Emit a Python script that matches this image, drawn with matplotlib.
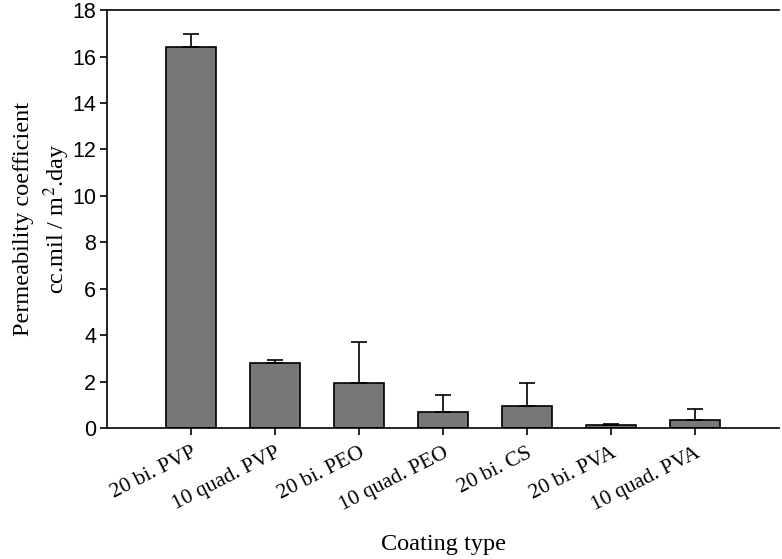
import matplotlib.pyplot as plt
import numpy as np

coatings = ["20 bi. PVP", "10 quad. PVP", "20 bi. PEO", "10 quad. PEO",
            "20 bi. CS", "20 bi. PVA", "10 quad. PVA"]
permeability = [16.4, 2.82, 1.93, 0.69, 0.97, 0.13, 0.37]
upper_err = [0.57, 0.13, 1.77, 0.73, 0.96, 0.03, 0.45]

serif = ["Liberation Serif", "DejaVu Serif"]
sans = ["Liberation Sans", "DejaVu Sans"]

fig = plt.figure(figsize=(7.82, 5.59), dpi=100)
ax = fig.add_axes([0.137, 0.234, 0.859, 0.748])

x = np.arange(len(coatings))
ax.bar(x, permeability, width=0.6, color="#777777", edgecolor="black", linewidth=1.2)
ax.errorbar(x, permeability, yerr=[np.zeros(len(x)), upper_err], fmt="none",
            ecolor="black", elinewidth=1.2, capsize=6, capthick=1.2)

ax.set_xlim(-1, 7)
ax.set_ylim(0, 18)
ax.set_yticks(range(0, 19, 2))
ax.set_xticks(x)
ax.set_xticklabels(coatings, rotation=27, ha="right", rotation_mode="anchor",
                   family=serif, fontsize=15.5)
for lab in ax.get_yticklabels():
    lab.set_family(sans)
    lab.set_fontsize(15.5)

ax.spines["right"].set_visible(False)
for s in ["left", "bottom", "top"]:
    ax.spines[s].set_linewidth(1.2)
ax.tick_params(direction="out", length=5, width=1.2, top=False, right=False)
ax.tick_params(axis="x", pad=6)
ax.tick_params(axis="y", pad=3)

ax.set_ylabel("Permeability coefficient\ncc.mil / m$^2$.day", family=serif,
              fontsize=17.5, linespacing=1.35)
ax.yaxis.label.set_math_fontfamily("stix")
ax.yaxis.set_label_coords(-0.052, 0.5)
ax.set_xlabel("Coating type", family=serif, fontsize=17.5, labelpad=14)

fig.savefig("out.png", dpi=100)
